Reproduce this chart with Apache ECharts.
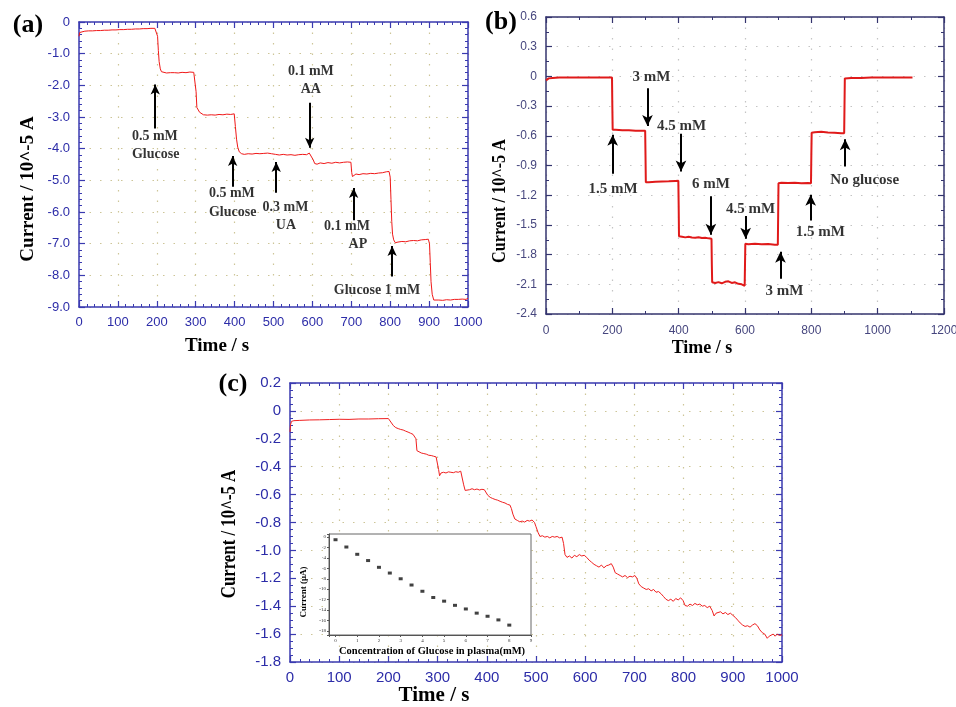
<!DOCTYPE html>
<html>
<head>
<meta charset="utf-8">
<script src="https://cdn.jsdelivr.net/npm/echarts@6/dist/echarts.min.js"></script>
<style>
html,body{margin:0;padding:0;background:#fff}
#main{width:956px;height:707px}
</style>
</head>
<body>
<div id="main"></div>
<script>
// ---- (a) 干扰实验 ----
var traceA = [[0,-0.45],[2,-0.33],[5,-0.3],[15,-0.29],[25,-0.28],[35,-0.28],[45,-0.27],[55,-0.27],[65,-0.26],[75,-0.26],[85,-0.25],[95,-0.25],[105,-0.24],[115,-0.24],[125,-0.23],[135,-0.23],[145,-0.22],[155,-0.22],[165,-0.21],[175,-0.21],[185,-0.2],[195,-0.2],[199,-0.19],
 [202,-0.45],[204,-0.9],[206,-1.25],[209,-1.48],[212,-1.57],[216,-1.6],[225,-1.61],[235,-1.6],[245,-1.6],[255,-1.61],[265,-1.59],[275,-1.6],[285,-1.58],[295,-1.59],[299,-1.57],
 [301,-2.2],[303,-2.7],[306,-2.76],[310,-2.85],[315,-2.9],[320,-2.93],[330,-2.94],[340,-2.93],[350,-2.94],[360,-2.92],[370,-2.93],[380,-2.91],[390,-2.92],[399,-2.9],
 [402,-3.3],[405,-3.7],[408,-3.95],[412,-4.1],[418,-4.16],[425,-4.18],[435,-4.16],[445,-4.17],[455,-4.15],[465,-4.16],[475,-4.15],[485,-4.14],[495,-4.16],[505,-4.18],[515,-4.2],[525,-4.18],[535,-4.2],[545,-4.19],[555,-4.21],[565,-4.19],[575,-4.18],[585,-4.19],[592,-4.14],[597,-4.17],
 [602,-4.35],[606,-4.47],[612,-4.49],[620,-4.45],[630,-4.47],[640,-4.44],[650,-4.46],[660,-4.43],[670,-4.45],[680,-4.43],[690,-4.42],[699,-4.43],
 [701,-4.75],[703,-4.88],[706,-4.82],[712,-4.8],[720,-4.82],[730,-4.79],[740,-4.8],[750,-4.78],[760,-4.79],[770,-4.77],[780,-4.76],[790,-4.73],[797,-4.72],
 [800,-4.9],[802,-5.6],[804,-6.3],[806,-6.7],[809,-6.88],[813,-6.97],[820,-6.95],[830,-6.93],[840,-6.94],[850,-6.91],[860,-6.9],[870,-6.91],[880,-6.88],[890,-6.87],[898,-6.86],
 [901,-7.0],[903,-7.6],[905,-8.2],[908,-8.6],[912,-8.78],[916,-8.83],[925,-8.78],[935,-8.79],[945,-8.77],[955,-8.78],[965,-8.76],[975,-8.76],[985,-8.75],[995,-8.76],[1000,-8.72]];
// 箭头: [x, 起点y, 箭头尖y]
var arrowsA = [[196,-3.36,-1.97],[395,-5.2,-4.23],[507,-5.39,-4.42],[593,-2.55,-3.97],[706,-6.26,-5.24],[805,-8.04,-7.07]];
var labelsA = [[195,-3.6,'0.5 mM'],[197,-4.17,'Glucose'],[393,-5.42,'0.5 mM'],[395,-6.0,'Glucose'],
 [531,-5.84,'0.3 mM'],[532,-6.42,'UA'],[596,-1.56,'0.1 mM'],[596,-2.13,'AA'],
 [689,-6.45,'0.1 mM'],[717,-7.02,'AP'],[766,-8.49,'Glucose 1 mM']];

// ---- (b) 浓度阶梯 ----
var traceB = [[0,-0.04],[3,-0.03],[8,-0.02],[20,-0.015],[40,-0.012],[60,-0.01],[80,-0.011],[100,-0.01],[120,-0.01],[140,-0.012],[160,-0.01],[180,-0.01],[199,-0.012],
 [200,-0.3],[201,-0.54],[210,-0.54],[230,-0.545],[250,-0.543],[270,-0.55],[290,-0.548],[299,-0.55],
 [300,-0.8],[301,-1.07],[310,-1.07],[330,-1.065],[350,-1.062],[370,-1.06],[390,-1.056],[399,-1.055],
 [400,-1.3],[401,-1.615],[410,-1.62],[420,-1.626],[430,-1.62],[440,-1.627],[450,-1.63],[460,-1.624],[470,-1.632],[480,-1.63],[490,-1.636],[499,-1.64],
 [500,-1.9],[501,-2.08],[510,-2.086],[520,-2.078],[530,-2.09],[540,-2.075],[550,-2.07],[560,-2.086],[570,-2.08],[580,-2.095],[590,-2.1],[599,-2.115],
 [600,-1.9],[601,-1.69],[610,-1.695],[630,-1.69],[650,-1.696],[670,-1.694],[690,-1.7],[699,-1.7],
 [700,-1.4],[701,-1.08],[710,-1.075],[730,-1.077],[750,-1.074],[770,-1.08],[790,-1.078],[799,-1.08],
 [800,-0.8],[801,-0.57],[810,-0.565],[830,-0.56],[850,-0.566],[870,-0.57],[890,-0.574],[899,-0.575],
 [900,-0.3],[901,-0.02],[920,-0.015],[950,-0.016],[980,-0.012],[1010,-0.01],[1040,-0.011],[1070,-0.01],[1105,-0.01]];
var arrowsB = [[201,-0.984,-0.59],[306,-0.12,-0.5],[407,-0.58,-0.96],[497,-1.21,-1.6],[602,-1.41,-1.64],[707,-2.045,-1.77],[798,-1.455,-1.195],[902,-0.91,-0.635]];
var labelsB = [[318,-0.01,'3 mM'],[409,-0.5,'4.5 mM'],[202,-1.14,'1.5 mM'],[497,-1.085,'6 mM'],
 [617,-1.34,'4.5 mM'],[827,-1.575,'1.5 mM'],[719,-2.17,'3 mM'],[961,-1.045,'No glucose']];

// ---- (c) 血浆样品 ----
var traceC = [[0,-0.15],[1,-0.1],[3,-0.075],[8,-0.07],[20,-0.068],[40,-0.065],[60,-0.064],[80,-0.062],[100,-0.06],[120,-0.061],[140,-0.058],[160,-0.058],[180,-0.056],[200,-0.055],
 [205,-0.08],[210,-0.105],[215,-0.12],[220,-0.127],[225,-0.133],[230,-0.137],[235,-0.145],[240,-0.152],[245,-0.16],[250,-0.168],[254,-0.175],[256,-0.2],[258,-0.285],[262,-0.295],[267,-0.302],[272,-0.306],[277,-0.31],[282,-0.318],[287,-0.32],[292,-0.325],[297,-0.33],
 [300,-0.34],[302,-0.42],[304,-0.465],[307,-0.445],[312,-0.44],[317,-0.445],[322,-0.437],[327,-0.44],[332,-0.443],[337,-0.436],[342,-0.44],[347,-0.432],[350,-0.445],[353,-0.53],[356,-0.57],[360,-0.56],[365,-0.565],[370,-0.558],[375,-0.565],[380,-0.56],[385,-0.567],[390,-0.562],[395,-0.565],[398,-0.57],
 [402,-0.605],[407,-0.62],[412,-0.628],[417,-0.635],[422,-0.64],[427,-0.648],[432,-0.655],[437,-0.66],[442,-0.67],[447,-0.675],[450,-0.7],[453,-0.74],[457,-0.775],[462,-0.785],[467,-0.795],[472,-0.79],[477,-0.797],[482,-0.785],[487,-0.79],[492,-0.782],[497,-0.8],
 [500,-0.83],[504,-0.87],[508,-0.9],[513,-0.895],[518,-0.905],[523,-0.9],[528,-0.91],[533,-0.9],[538,-0.905],[543,-0.9],[548,-0.91],[553,-0.905],[556,-0.95],[559,-1.03],[563,-1.05],[568,-1.04],[573,-1.055],[578,-1.035],[583,-1.045],[588,-1.03],[593,-1.04],[598,-1.035],
 [603,-1.05],[608,-1.07],[613,-1.085],[618,-1.1],[623,-1.11],[628,-1.12],[633,-1.105],[638,-1.125],[643,-1.11],[648,-1.105],[653,-1.095],[657,-1.12],[661,-1.16],[666,-1.17],[671,-1.18],[676,-1.19],[681,-1.18],[686,-1.195],[691,-1.185],[696,-1.19],
 [701,-1.18],[705,-1.2],[709,-1.24],[714,-1.26],[719,-1.27],[724,-1.28],[729,-1.275],[734,-1.29],[739,-1.28],[744,-1.3],[749,-1.295],[754,-1.31],[759,-1.33],[764,-1.35],[769,-1.36],[774,-1.35],[779,-1.365],[784,-1.345],[789,-1.355],[794,-1.34],[799,-1.36],
 [803,-1.395],[808,-1.4],[813,-1.385],[818,-1.395],[823,-1.38],[828,-1.39],[833,-1.385],[838,-1.4],[843,-1.395],[848,-1.41],[853,-1.4],[858,-1.43],[862,-1.47],[866,-1.45],[870,-1.46],[875,-1.44],[880,-1.455],[885,-1.445],[890,-1.46],[895,-1.45],
 [900,-1.465],[905,-1.48],[910,-1.5],[915,-1.52],[920,-1.535],[925,-1.545],[930,-1.54],[935,-1.55],[940,-1.535],[945,-1.525],[950,-1.54],[955,-1.57],[960,-1.59],[965,-1.6],[970,-1.63],[974,-1.615],[978,-1.625],[982,-1.6],[986,-1.615],[990,-1.6],[995,-1.61],[1000,-1.605]];

// 插图: 浓度 (mM) / 电流 (μA)
var insetConc = [0,0.5,1,1.5,2,2.5,3,3.5,4,4.5,5,5.5,6,6.5,7,7.5,8];
var insetCurr = [-0.5,-1.9,-3.3,-4.5,-5.8,-6.9,-8.0,-9.2,-10.4,-11.6,-12.3,-13.1,-13.8,-14.6,-15.2,-15.9,-16.9];

var NARROW = '"Liberation Sans Narrow", "Liberation Sans", Arial, sans-serif';
var SERIF = '"Liberation Serif", "Times New Roman", serif';

var chart = echarts.init(document.getElementById('main'));

function fmt1(v) { return Math.abs(v) < 1e-9 ? '0' : v.toFixed(1); }
function fmtInt(v) { return Math.abs(v) < 1e-9 ? '0' : String(v); }

var xAxes = [], yAxes = [];
//每个面板四条边: 下/左带标签, 上/右只有刻度
function addAxes(g, xr, yr, st) {
	var line = {show: true, onZero: false, lineStyle: {color: st.axis, width: 1.5}};
	var tick = {show: true, inside: true, length: 6, lineStyle: {color: st.axis, width: 1.2}};
	var split = {show: true, lineStyle: {color: st.grid, type: [1.5, 9], width: 1.2}};
	var lab = {color: st.label, fontFamily: NARROW, fontSize: st.fs};
	var xi = xAxes.length, yi = yAxes.length;
	[['bottom', true], ['top', false]].forEach(function(p) {
		xAxes.push({type: 'value', gridIndex: g, position: p[0], min: xr[0], max: xr[1], interval: xr[2],
			axisLine: line, axisTick: tick,
			minorTick: {show: true, splitNumber: xr[3], length: 3, lineStyle: {color: st.axis, width: 1}},
			splitLine: p[1] ? split : {show: false},
			axisLabel: p[1] ? Object.assign({margin: st.xm, formatter: fmtInt}, lab) : {show: false}});
	});
	[['left', true], ['right', false]].forEach(function(p) {
		yAxes.push({type: 'value', gridIndex: g, position: p[0], min: yr[0], max: yr[1], interval: yr[2],
			axisLine: line, axisTick: tick,
			minorTick: {show: true, splitNumber: yr[3], length: 3, lineStyle: {color: st.axis, width: 1}},
			splitLine: p[1] ? split : {show: false},
			axisLabel: p[1] ? Object.assign({margin: st.ym, formatter: fmt1}, lab) : {show: false}});
	});
	return [xi, yi];
}

var axA = addAxes(0, [0, 1000, 100, 5], [-9, 0, 1, 5], {axis: '#3a3ab0', grid: '#cdc598', label: '#2c2ca8', fs: 13, xm: 9, ym: 9});
var axB = addAxes(1, [0, 1200, 200, 2], [-2.4, 0.6, 0.3, 2], {axis: '#34346e', grid: '#c4c4c4', label: '#46467e', fs: 12, xm: 11, ym: 9});
var axC = addAxes(2, [0, 1000, 100, 5], [-1.8, 0.2, 0.2, 4], {axis: '#3a3ab0', grid: '#cdc598', label: '#2c2ca8', fs: 15, xm: 8, ym: 9});

// 插图坐标轴
var axI = [xAxes.length, yAxes.length];
xAxes.push({type: 'value', gridIndex: 3, min: -0.3, max: 9, splitNumber: 9, z: 6,
	axisLine: {onZero: false, lineStyle: {color: '#555', width: 1}},
	axisTick: {length: 2, lineStyle: {color: '#555'}}, splitLine: {show: false},
	axisLabel: {fontSize: 5, color: '#333', margin: 3, fontFamily: SERIF,
		formatter: function(v) { return Math.abs(v - Math.round(v)) < 1e-6 ? String(Math.round(v)) : ''; }}});
yAxes.push({type: 'value', gridIndex: 3, min: -18.8, max: 0.6, splitNumber: 10, z: 6,
	axisLine: {onZero: false, lineStyle: {color: '#555', width: 1}},
	axisTick: {length: 2, lineStyle: {color: '#555'}}, splitLine: {show: false},
	axisLabel: {fontSize: 5, color: '#333', margin: 3, fontFamily: SERIF,
		formatter: function(v) { var r = Math.round(v); return (Math.abs(v - r) < 1e-6 && r % 2 === 0) ? String(r) : ''; }}});

function arrowLines(list) {
	return list.map(function(a) { return [{coord: [a[0], a[1]]}, {coord: [a[0], a[2]]}]; });
}
function labelPts(list) {
	return list.map(function(l) { return {value: [l[0], l[1]], name: l[2]}; });
}

function traceSeries(ax, data, color, width, arrows, headSize) {
	return {type: 'line', xAxisIndex: ax[0], yAxisIndex: ax[1], data: data, showSymbol: false, symbol: 'none',
		lineStyle: {color: color, width: width}, z: 3,
		markLine: {silent: true, symbol: ['none', 'arrow'], symbolSize: headSize,
			lineStyle: {color: '#000', width: 2, type: 'solid'}, label: {show: false},
			emphasis: {disabled: true}, data: arrowLines(arrows)}};
}
function labelSeries(ax, list, fs) {
	return {type: 'scatter', xAxisIndex: ax[0], yAxisIndex: ax[1], data: labelPts(list), symbolSize: 0, z: 4,
		itemStyle: {color: '#000'}, silent: true,
		label: {show: true, position: 'inside', formatter: '{b}', color: '#000',
			textBorderWidth: 0, fontFamily: SERIF, fontWeight: 'bold', fontSize: fs}};
}

function ttl(text, x, y, size, rot, sx) {
	return {type: 'text', x: x, y: y, rotation: rot ? Math.PI / 2 : 0, scaleX: sx || 1, z: 10,
		style: {text: text, font: 'bold ' + size + 'px ' + SERIF, fill: '#000',
			align: 'center', verticalAlign: 'middle', textAlign: 'center', textVerticalAlign: 'middle'}};
}

var option = {
	animation: false,
	backgroundColor: '#fff',
	grid: [
		{left: 79, top: 22, width: 389, height: 285, outerBoundsMode: 'none'},
		{left: 546, top: 17, width: 398, height: 297, outerBoundsMode: 'none'},
		{left: 290, top: 383, width: 492, height: 279, outerBoundsMode: 'none'},
		{left: 329, top: 534, width: 202, height: 101, show: true, backgroundColor: '#fff',
			borderColor: '#666', borderWidth: 1, z: 5, outerBoundsMode: 'none'}
	],
	xAxis: xAxes,
	yAxis: yAxes,
	series: [
		traceSeries(axA, traceA, '#f01818', 1, arrowsA, [7, 10]),
		labelSeries(axA, labelsA, 14),
		traceSeries(axB, traceB, '#e01a1a', 2, arrowsB, [8, 11]),
		labelSeries(axB, labelsB, 15),
		{type: 'line', xAxisIndex: axC[0], yAxisIndex: axC[1], data: traceC, showSymbol: false, symbol: 'none',
			lineStyle: {color: '#f02020', width: 1}, z: 3},
		{type: 'scatter', xAxisIndex: axI[0], yAxisIndex: axI[1], z: 7, symbol: 'rect', symbolSize: [4, 3],
			itemStyle: {color: '#111'},
			data: insetConc.map(function(c, i) { return [c, insetCurr[i]]; })}
	],
	graphic: [
		ttl('(a)', 28, 25, 26), ttl('(b)', 501, 22, 26), ttl('(c)', 233, 384, 26),
		ttl('Current / 10^-5 A', 28, 189, 19, true),
		ttl('Time / s', 217, 346, 19),
		ttl('Current / 10^-5 A', 500, 201, 18, true, 0.9),
		ttl('Time / s', 702, 348, 18),
		ttl('Current / 10^-5 A', 230, 534, 21, true, 0.8),
		ttl('Time / s', 434, 696, 21),
		ttl('Concentration of Glucose in plasma(mM)', 432, 651, 10.5),
		ttl('Current (\u03bcA)', 304, 592, 9, true)
	]
};

chart.setOption(option);
</script>
</body>
</html>
